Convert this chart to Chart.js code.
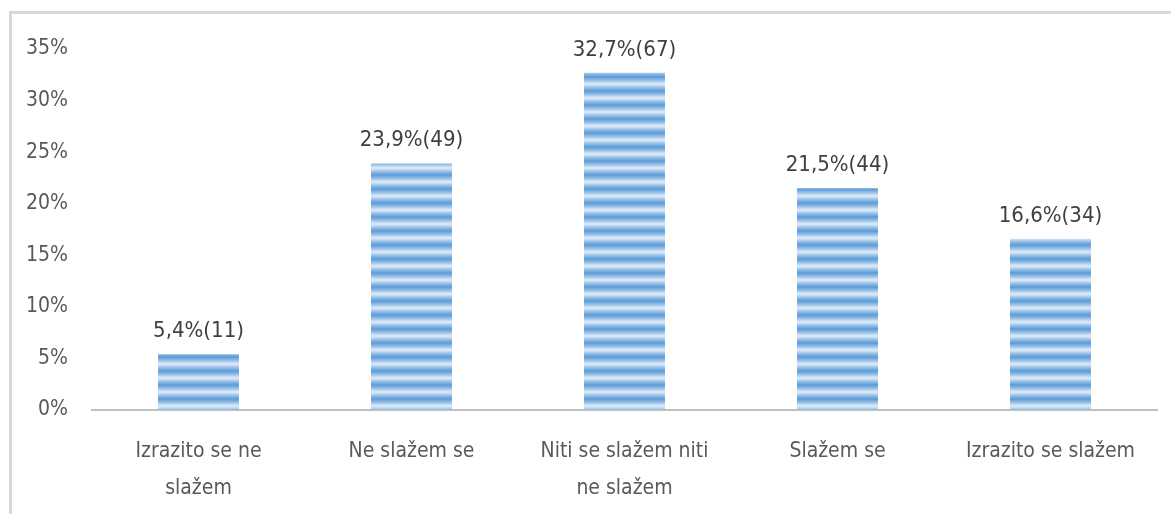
<!DOCTYPE html>
<html>
<head>
<meta charset="utf-8">
<script src="https://cdn.jsdelivr.net/npm/chart.js@4.4.1/dist/chart.umd.min.js"></script>
<style>
  html, body { margin: 0; padding: 0; background: #fff; }
  #kutija { position: relative; width: 1171px; height: 514px; overflow: hidden; }
  #okvir { position: absolute; left: 9px; top: 11px; width: 1200px; height: 600px;
           border-top: 3px solid #d9d9d9; border-left: 3px solid #d9d9d9; }
  #grafikon { position: absolute; left: 0; top: 0; }
</style>
</head>
<body>
<div id="kutija">
  <div id="okvir"></div>
  <canvas id="grafikon" width="1171" height="514"></canvas>
</div>
<script>
/* PODACI */
var kategorije = [
  ["Izrazito se ne", "slažem"],
  "Ne slažem se",
  ["Niti se slažem niti", "ne slažem"],
  "Slažem se",
  "Izrazito se slažem"
];
var postoci = [5.4, 23.9, 32.7, 21.5, 16.6];
var brojevi = [11, 49, 67, 44, 34];
var yOznake = [0, 5, 10, 15, 20, 25, 30, 35];
/* PODACI */

var fontObitelj = "'DejaVu Sans Condensed', 'Liberation Sans Narrow', sans-serif";

// prugasti uzorak za stupce
function napraviUzorak(ctx) {
  var c = document.createElement("canvas");
  c.width = 4;
  c.height = 14;
  var cx = c.getContext("2d");
  var g = cx.createLinearGradient(0, 0, 0, 14);
  g.addColorStop(0, "#e2edf9");
  g.addColorStop(0.3, "#8ab8e4");
  g.addColorStop(0.5, "#5b9bd5");
  g.addColorStop(0.7, "#8ab8e4");
  g.addColorStop(1, "#e2edf9");
  cx.fillStyle = g;
  cx.fillRect(0, 0, 4, 14);
  return ctx.createPattern(c, "repeat");
}

// oznake iznad stupaca
var oznakePlugin = {
  id: "oznake",
  afterDatasetsDraw: function (chart) {
    var ctx = chart.ctx;
    var meta = chart.getDatasetMeta(0);
    ctx.save();
    ctx.font = "22px " + fontObitelj;
    ctx.fillStyle = "#404040";
    ctx.textAlign = "center";
    ctx.textBaseline = "alphabetic";
    for (var i = 0; i < meta.data.length; i++) {
      var bar = meta.data[i];
      var tekst = postoci[i].toFixed(1).replace(".", ",") + "%(" + brojevi[i] + ")";
      ctx.fillText(tekst, bar.x, bar.y - 17);
    }
    ctx.restore();
  }
};

var platno = document.getElementById("grafikon");
var ctx = platno.getContext("2d");

var grafikon = new Chart(ctx, {
  type: "bar",
  data: {
    labels: kategorije,
    datasets: [{
      data: postoci,
      backgroundColor: napraviUzorak(ctx),
      borderWidth: 0,
      categoryPercentage: 1,
      barPercentage: 0.38
    }]
  },
  options: {
    responsive: false,
    animation: false,
    layout: { padding: { left: 0, right: 14, top: 49, bottom: 0 } },
    plugins: {
      legend: { display: false },
      tooltip: { enabled: false }
    },
    scales: {
      x: {
        grid: { display: false, drawTicks: false },
        border: { display: true, color: "#bfbfbf", width: 2 },
        ticks: {
          color: "#595959",
          padding: 23,
          maxRotation: 0,
          autoSkip: false,
          font: { family: fontObitelj, size: 21, lineHeight: 1.75 }
        },
        afterFit: function (scale) { scale.height = 104; }
      },
      y: {
        min: 0,
        max: 35,
        afterBuildTicks: function (scale) {
          scale.ticks = yOznake.map(function (v) { return { value: v }; });
        },
        grid: { display: false, drawTicks: false },
        border: { display: false },
        ticks: {
          color: "#595959",
          padding: 24,
          font: { family: fontObitelj, size: 21 },
          callback: function (v) { return v + "%"; }
        },
        afterFit: function (scale) { scale.width = 92; }
      }
    }
  },
  plugins: [oznakePlugin]
});
</script>
</body>
</html>
